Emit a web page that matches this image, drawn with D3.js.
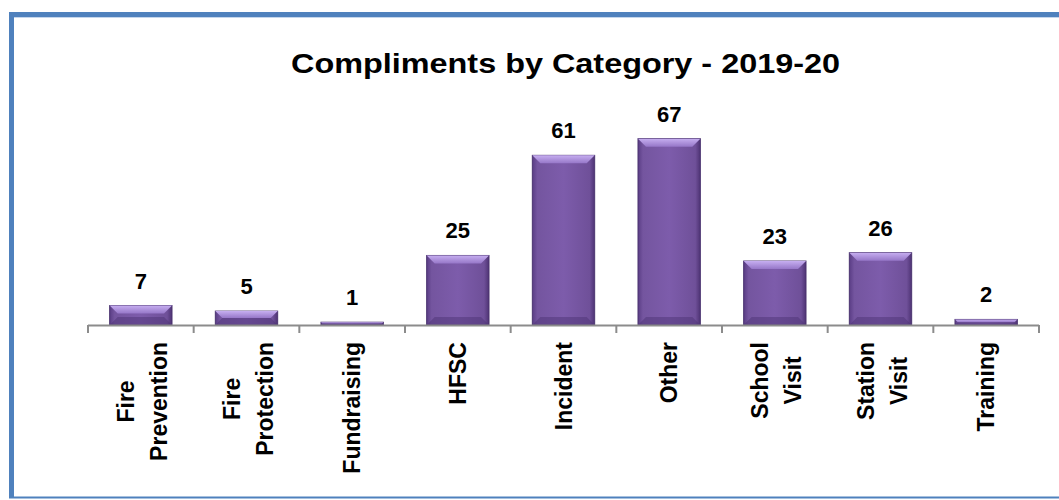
<!DOCTYPE html>
<html><head><meta charset="utf-8">
<script src="https://cdn.jsdelivr.net/npm/d3@7"></script>
<style>body{margin:0;background:#fff;} svg{display:block;}</style>
</head><body>
<svg id="c" width="1059" height="500"></svg>
<script>
const categories = ["Fire Prevention","Fire Protection","Fundraising","HFSC","Incident","Other","School Visit","Station Visit","Training"];
const values = [7,5,1,25,61,67,23,26,2];
const title = "Compliments by Category - 2019-20";

const svg = d3.select("#c");
const W = 1059, H = 500;
const font = "'Liberation Sans', Arial, sans-serif";

// frame
svg.append("rect").attr("x",0).attr("y",0).attr("width",W).attr("height",H).attr("fill","#fff");
svg.append("line").attr("x1",11.5).attr("x2",11.5).attr("y1",12).attr("y2",498).attr("stroke","#4f81bd").attr("stroke-width",5);
svg.append("line").attr("x1",9).attr("x2",W).attr("y1",14.5).attr("y2",14.5).attr("stroke","#4f81bd").attr("stroke-width",5);
svg.append("line").attr("x1",14).attr("x2",W).attr("y1",17.5).attr("y2",17.5).attr("stroke","#c5d6ec").attr("stroke-width",1);
svg.append("line").attr("x1",9).attr("x2",W).attr("y1",497.5).attr("y2",497.5).attr("stroke","#4f81bd").attr("stroke-width",2);

const x = d3.scaleBand().domain(categories).range([88,1039]).paddingInner(0.41).paddingOuter(0.205);
const xb = d3.scaleBand().domain(categories).range([88,1039]);
const y = d3.scaleLinear().domain([0,80]).range([325,102.5]);

const defs = svg.append("defs");
const g1 = defs.append("linearGradient").attr("id","bg").attr("x1","0").attr("x2","1").attr("y1","0").attr("y2","0");
[[0,"#5a3d85"],[0.08,"#74559f"],[0.5,"#7d5cab"],[0.92,"#6f5099"],[1,"#4e3374"]].forEach(s=>g1.append("stop").attr("offset",s[0]).attr("stop-color",s[1]));
const g2 = defs.append("linearGradient").attr("id","tg").attr("x1","0").attr("x2","0").attr("y1","0").attr("y2","1");
[[0,"#c6aef0"],[1,"#9677c8"]].forEach(s=>g2.append("stop").attr("offset",s[0]).attr("stop-color",s[1]));

svg.append("text").attr("x",565.5).attr("y",73).attr("text-anchor","middle")
  .attr("font-family",font).attr("font-weight","bold").attr("font-size",28).attr("fill","#000")
  .attr("textLength",549).attr("lengthAdjust","spacingAndGlyphs").text(title);

// bars
const bars = svg.append("g").selectAll("g").data(categories).join("g");
bars.each(function(c,i){
  const g = d3.select(this);
  const x0 = x(c), bw = x.bandwidth(), yt = y(values[i]), yb = y(0);
  const h = yb - yt;
  g.append("rect").attr("x",x0).attr("y",yt).attr("width",bw).attr("height",h)
    .attr("fill","url(#bg)").attr("stroke","#4b3470").attr("stroke-width",1);
  const bev = Math.min(8, h/2);
  g.append("path").attr("d",`M${x0},${yt}L${x0+bw},${yt}L${x0+bw-bev},${yt+bev}L${x0+bev},${yt+bev}Z`)
    .attr("fill","url(#tg)");
  g.append("path").attr("d",`M${x0},${yb}L${x0+bw},${yb}L${x0+bw-bev},${yb-bev}L${x0+bev},${yb-bev}Z`)
    .attr("fill","#4e3475").attr("opacity",0.5);
  g.append("text").attr("x",x0+bw/2).attr("y",yt-17).attr("text-anchor","middle")
    .attr("font-family",font).attr("font-weight","bold").attr("font-size",22).attr("fill","#000").text(values[i]);
});

// axis
const ax = svg.append("g");
ax.append("line").attr("x1",88).attr("x2",1039).attr("y1",325.5).attr("y2",325.5).attr("stroke","#8c8c8c").attr("stroke-width",2);
const bounds = categories.map(c=>xb(c)).concat([1039]);
ax.selectAll("line.t").data(bounds).join("line").attr("class","t")
  .attr("x1",d=>d).attr("x2",d=>d).attr("y1",325).attr("y2",333).attr("stroke","#8c8c8c").attr("stroke-width",2);

// rotated labels
const fs = 23, capH = fs*0.716;
categories.forEach(c=>{
  const lines = c.split(" ");
  const cx = xb(c)+xb.bandwidth()/2;
  const gap = 33;
  const n = lines.length;
  const texts = lines.map((ln,j)=>{
    const vc = cx + (j-(n-1)/2)*gap + (n>1?1.5:0);
    const lx = vc + capH/2;
    return svg.append("text").attr("font-family",font).attr("font-weight","bold").attr("font-size",fs)
      .attr("fill","#000").attr("text-anchor","middle").attr("data-x",lx).text(ln);
  });
  const maxW = d3.max(texts,t=>t.node().getComputedTextLength());
  const cy = 342 + maxW/2;
  texts.forEach(t=>{
    const lx = +t.attr("data-x");
    t.attr("transform",`translate(${lx},${cy}) rotate(-90)`).attr("x",0).attr("y",0);
  });
});
</script>
</body></html>
